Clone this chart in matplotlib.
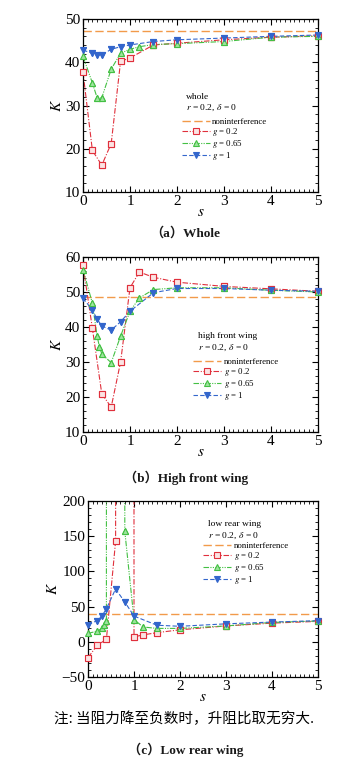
import matplotlib
matplotlib.use("Agg")
import matplotlib.pyplot as plt
from matplotlib.ticker import MultipleLocator

plt.rcParams["font.family"] = ["Liberation Serif", "Noto Sans CJK SC"]
plt.rcParams["mathtext.fontset"] = "stix"

# ── Data ──────────────────────────────────────────────────────────────────────
INF = 1e5   # lift/drag taken as infinite when drag turns negative

# (a) whole
a_none = 47.3
a_s02 = [0, 0.2, 0.4, 0.6, 0.8, 1.0, 1.5, 2, 3, 4, 5]
a_k02 = [37.7, 19.6, 16.2, 21.2, 40.2, 41.0, 44.0, 44.4, 45.2, 45.8, 46.1]
a_s065 = [0, 0.2, 0.3, 0.4, 0.6, 0.8, 1.0, 1.2, 1.5, 2, 3, 4, 5]
a_k065 = [41.4, 35.2, 31.8, 31.8, 38.4, 42.1, 43.0, 43.6, 44.1, 44.3, 44.8, 45.8, 46.0]
a_s1 = [0, 0.2, 0.3, 0.4, 0.6, 0.8, 1.0, 1.5, 2, 3, 4, 5]
a_k1 = [42.8, 42.1, 41.7, 41.7, 43.0, 43.6, 44.0, 44.8, 45.2, 45.6, 46.0, 46.3]

# (b) high front wing
b_none = 48.6
b_s02 = [0, 0.2, 0.4, 0.6, 0.8, 1.0, 1.2, 1.5, 2, 3, 4, 5]
b_k02 = [57.6, 39.6, 20.9, 17.1, 30.0, 51.2, 55.7, 54.2, 52.8, 51.6, 50.9, 50.2]
b_s065 = [0, 0.2, 0.3, 0.35, 0.4, 0.6, 0.8, 1.0, 1.2, 1.5, 2, 3, 4, 5]
b_k065 = [56.4, 46.8, 37.4, 34.4, 32.3, 29.8, 37.4, 44.5, 48.3, 50.7, 51.2, 51.2, 50.5, 50.0]
b_s1 = [0, 0.2, 0.3, 0.4, 0.6, 0.8, 1.0, 1.5, 2, 3, 4, 5]
b_k1 = [48.3, 44.8, 42.3, 40.3, 39.1, 41.5, 44.5, 49.8, 51.0, 51.0, 50.5, 50.2]

# (c) low rear wing
c_none = 39.2
c_s02 = [0, 0.2, 0.4, 0.6, 0.8, 1.0, 1.2, 1.5, 2, 3, 4, 5]
c_k02 = [-22.5, -5.0, 3.5, 143, INF, 7.0, 9.8, 13.0, 17.0, 22.5, 26.5, 29.0]
c_s065 = [0, 0.2, 0.3, 0.35, 0.4, 0.6, 0.8, 1.0, 1.2, 1.5, 2, 3, 4, 5]
c_k065 = [12.0, 15.0, 19.0, 24.0, 30.0, INF, 157, 31.5, 21.0, 19.0, 19.0, 22.5, 27.5, 29.5]
c_s1 = [0, 0.2, 0.3, 0.4, 0.6, 0.8, 1.0, 1.5, 2, 3, 4, 5]
c_k1 = [24.5, 30.0, 36.3, 47.0, 75.0, 56.5, 36.5, 23.5, 22.0, 25.5, 28.0, 30.0]

# ── Styles ────────────────────────────────────────────────────────────────────
ORANGE = "#F29A4A"
RED = "#E0303C"
GREEN = "#44C044"
BLUE = "#3366CC"

STYLE02 = dict(color=RED, marker="s", ms=3.8, mfc="#FBE3E3", mec=RED, mew=0.8)
STYLE065 = dict(color=GREEN, marker="^", ms=4.2, mfc="#9EE39E", mec=GREEN, mew=0.8)
STYLE1 = dict(color=BLUE, marker="v", ms=4.2, mfc=BLUE, mec=BLUE, mew=0.8)

fig = plt.figure(figsize=(3.53, 7.61), dpi=100)
fig.patch.set_facecolor("white")


def series(ax, s, k, style, dashes, label):
    ax.plot(s, k, lw=0.8, dashes=dashes, label=label, **style)
    # markers drawn again unclipped so the ones on the frame show whole
    ax.plot(s, k, ls="none", clip_on=False, zorder=3, **style)


def draw_panel(rect, none_k, s02, k02, s065, k065, s1, k1, ylim, ymaj, ymin,
               tag, leg_x, txt_y, leg_y):
    ax = fig.add_axes(rect)
    ax.axhline(none_k, color=ORANGE, lw=1.0, dashes=(6, 2.5), label="noninterference")
    series(ax, s02, k02, STYLE02, (5, 1.5, 1, 1.5), "$g$ = 0.2")
    series(ax, s065, k065, STYLE065, (5, 1.2, 1, 1.2, 1, 1.2), "$g$ = 0.65")
    series(ax, s1, k1, STYLE1, (4, 2), "$g$ = 1")
    ax.set_xlim(0, 5)
    ax.set_ylim(*ylim)
    ax.xaxis.set_major_locator(MultipleLocator(1))
    ax.xaxis.set_minor_locator(MultipleLocator(0.1))
    ax.yaxis.set_major_locator(MultipleLocator(ymaj))
    ax.yaxis.set_minor_locator(MultipleLocator(ymin))
    ax.tick_params(which="both", direction="in", top=True, right=True,
                   labelsize=11, pad=2)
    ax.tick_params(which="major", length=4, width=0.8)
    ax.tick_params(which="minor", length=2, width=0.6)
    for sp in ax.spines.values():
        sp.set_linewidth(0.9)
    ax.set_xlabel("$s$", fontsize=11, labelpad=-1)
    ax.set_ylabel("$K$", fontsize=11, labelpad=1)
    ax.text(leg_x + 0.02, txt_y, tag, transform=ax.transAxes, fontsize=6.8)
    ax.text(leg_x + 0.02, txt_y - 0.065, r"$r$ = 0.2, $\delta$ = 0",
            transform=ax.transAxes, fontsize=6.8)
    ax.legend(loc="upper left", bbox_to_anchor=(leg_x, leg_y), frameon=False,
              fontsize=6.3, handlelength=3.2, handletextpad=0.3,
              labelspacing=0.0, borderpad=0, borderaxespad=0)
    return ax


draw_panel([0.2351, 0.7477, 0.6657, 0.2273], a_none,
           a_s02, a_k02, a_s065, a_k065, a_s1, a_k1,
           (10, 50), 10, 2, "whole", 0.42, 0.54, 0.43)
draw_panel([0.2351, 0.4323, 0.6657, 0.2300], b_none,
           b_s02, b_k02, b_s065, b_k065, b_s1, b_k1,
           (10, 60), 10, 2, "high front wing", 0.47, 0.535, 0.425)
draw_panel([0.2493, 0.1104, 0.6516, 0.2313], c_none,
           c_s02, c_k02, c_s065, c_k065, c_s1, c_k1,
           (-50, 200), 50, 10, "low rear wing", 0.50, 0.855, 0.765)

# ── Captions ──────────────────────────────────────────────────────────────────
fig.text(0.525, 0.6938, "（a）Whole", ha="center", va="center",
         fontsize=9.5, fontweight="bold", color="#1a1a1a")
fig.text(0.527, 0.3719, "（b）High front wing", ha="center", va="center",
         fontsize=9.5, fontweight="bold", color="#1a1a1a")
fig.text(0.522, 0.0552, "注: 当阻力降至负数时，升阻比取无穷大.", ha="center",
         va="center", fontsize=10.5, family=["Noto Sans CJK SC", "DejaVu Sans"])
fig.text(0.525, 0.0145, "（c）Low rear wing", ha="center", va="center",
         fontsize=9.5, fontweight="bold", color="#1a1a1a")

fig.savefig("out.png", dpi=100, facecolor="white")
